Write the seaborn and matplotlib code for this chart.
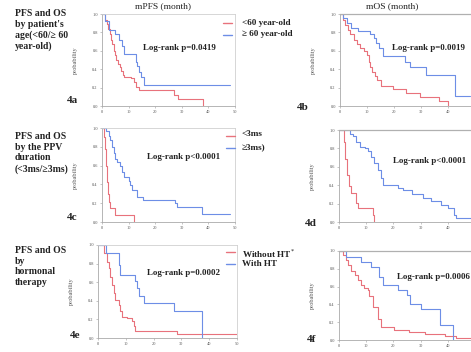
import matplotlib
matplotlib.use('Agg')
import matplotlib.pyplot as plt
import seaborn as sns
import pandas as pd
from matplotlib.lines import Line2D

W, H = 471, 352
RED = '#e8727c'
BLUE = '#6d8ee6'

# ---------------- data (time in months, survival probability) -------------
# 4a  mPFS by age
a_lt60_t = [0, 1.2, 1.8, 2.4, 2.9, 3.4, 3.9, 4.4, 4.9, 5.4, 6.0, 6.6, 7.2, 7.8, 8.4, 10.8, 12.0, 12.7, 13.9, 27.2, 28.5, 38.0]
a_lt60_s = [1.0, 0.93, 0.89, 0.84, 0.78, 0.72, 0.67, 0.60, 0.55, 0.50, 0.46, 0.42, 0.38, 0.34, 0.32, 0.30, 0.26, 0.21, 0.17, 0.12, 0.08, 0.0]
a_ge60_t = [0, 1.3, 2.5, 4.7, 6.3, 7.6, 8.2, 12.7, 13.3, 13.9, 14.6, 15.8, 48.1]
a_ge60_s = [1.0, 0.92, 0.83, 0.78, 0.72, 0.65, 0.57, 0.48, 0.43, 0.37, 0.31, 0.23, 0.23]
# 4b  mOS by age
b_lt60_t = [0, 1.0, 1.9, 2.9, 3.8, 5.0, 6.2, 7.5, 8.8, 10.0, 10.6, 11.2, 12.0, 12.8, 13.8, 15.0, 19.5, 24.5, 29.5, 36.5, 40.0]
b_lt60_s = [1.0, 0.94, 0.88, 0.83, 0.78, 0.72, 0.67, 0.63, 0.60, 0.55, 0.48, 0.42, 0.37, 0.33, 0.28, 0.22, 0.18, 0.14, 0.10, 0.05, 0.0]
b_ge60_t = [0, 1.2, 2.5, 4.0, 6.5, 11.0, 12.5, 13.5, 14.5, 15.8, 24.0, 26.0, 32.0, 42.5, 48.0]
b_ge60_s = [1.0, 0.96, 0.90, 0.85, 0.81, 0.78, 0.74, 0.69, 0.63, 0.54, 0.48, 0.42, 0.34, 0.11, 0.11]
# 4c  mPFS by PPV duration
c_lt3_t = [0, 0.9, 1.25, 1.6, 1.9, 2.1, 2.5, 3.1, 5.0, 11.9]
c_lt3_s = [1.0, 0.90, 0.78, 0.60, 0.43, 0.30, 0.21, 0.15, 0.07, 0.0]
c_ge3_t = [0, 1.5, 2.5, 3.1, 3.8, 4.4, 5.0, 5.6, 6.9, 7.5, 8.1, 10.0, 10.6, 11.2, 13.1, 15.6, 27.5, 28.1, 37.5, 48.0]
c_ge3_s = [1.0, 0.97, 0.92, 0.87, 0.80, 0.73, 0.67, 0.64, 0.60, 0.53, 0.48, 0.44, 0.39, 0.34, 0.27, 0.23, 0.20, 0.16, 0.08, 0.08]
# 4d  mOS by PPV duration
d_lt3_t = [0, 1.8, 2.3, 3.0, 3.5, 4.5, 6.3, 7.0, 12.4, 13.0]
d_lt3_s = [1.0, 0.87, 0.69, 0.51, 0.39, 0.31, 0.21, 0.15, 0.08, 0.0]
d_ge3_t = [0, 4.0, 5.1, 6.3, 7.6, 9.5, 10.6, 11.8, 13.0, 14.3, 15.5, 16.1, 21.6, 23.5, 27.0, 30.7, 33.8, 37.4, 39.9, 42.3, 43.0, 48.5]
d_ge3_s = [1.0, 0.96, 0.93, 0.87, 0.82, 0.80, 0.77, 0.71, 0.64, 0.57, 0.48, 0.40, 0.37, 0.35, 0.30, 0.26, 0.23, 0.19, 0.15, 0.08, 0.04, 0.04]
# 4e  mPFS by hormonal therapy
e_without_t = [0, 2.0, 3.2, 3.8, 4.4, 5.0, 5.6, 6.2, 7.4, 8.0, 8.6, 10.4, 12.2, 12.8, 13.4, 28.4, 50.5]
e_without_s = [1.0, 0.91, 0.82, 0.75, 0.66, 0.57, 0.48, 0.41, 0.36, 0.29, 0.23, 0.21, 0.18, 0.13, 0.07, 0.04, 0.04]
e_with_t = [0, 3.0, 7.4, 8.0, 13.4, 14.0, 14.6, 16.4, 27.2, 37.4]
e_with_s = [1.0, 0.91, 0.79, 0.68, 0.61, 0.54, 0.45, 0.38, 0.29, 0.0]
# 4f  mOS by hormonal therapy
f_without_t = [0, 1.5, 2.7, 3.3, 4.5, 5.7, 6.9, 8.1, 9.3, 10.5, 11.2, 12.4, 14.2, 15.4, 20.3, 25.6, 31.6, 39.0, 43.0, 48.5]
f_without_s = [1.0, 0.95, 0.90, 0.84, 0.78, 0.73, 0.67, 0.62, 0.58, 0.56, 0.49, 0.37, 0.24, 0.15, 0.11, 0.09, 0.07, 0.04, 0.02, 0.02]
f_with_t = [0, 2.7, 8.0, 11.7, 14.8, 16.0, 21.5, 25.0, 26.0, 30.0, 37.0, 42.0]
f_with_s = [1.0, 0.93, 0.88, 0.82, 0.71, 0.62, 0.56, 0.51, 0.41, 0.35, 0.17, 0.0]

titles = ['mPFS (month)', 'mOS (month)']
row_labels = ["PFS and OS\nby patient's\nage(<60/\u2265 60\nyear-old)",
              "PFS and OS\nby the PPV\nduration\n(<3ms/\u22653ms)",
              "PFS and OS\nby\nhormonal\ntherapy"]
legend_labels = [['<60 year-old', '\u2265 60 year-old'],
                 ['<3ms', '\u22653ms)'],
                 ['Without HT$^{*}$', 'With HT']]
pvalues = ['Log-rank p=0.0419', 'Log-rank p=0.0019', 'Log-rank p<0.0001',
           'Log-rank p<0.0001', 'Log-rank p=0.0002', 'Log-rank p=0.0006']
panel_ids = ['4a', '4b', '4c', '4d', '4e', '4f']
x_ticks_left = [0, 10, 20, 30, 40, 50]
x_ticks_right = [0, 10, 20, 30, 40]
y_ticks = [0.0, 0.2, 0.4, 0.6, 0.8, 1.0]

# ---------------- figure --------------------------------------------------
sns.set_theme(style='white')
plt.rcParams['font.family'] = ['Liberation Serif', 'DejaVu Serif']

fig = plt.figure(figsize=(W / 100, H / 100), dpi=100)


def rect(x0, y0, x1, y1):
    return [x0 / W, 1 - y1 / H, (x1 - x0) / W, (y1 - y0) / H]


def fx(x):
    return x / W


def fy(y):
    return 1 - y / H


def km(ax, t, s, color):
    df = pd.DataFrame({'time': t, 'surv': s})
    sns.lineplot(data=df, x='time', y='surv', ax=ax, color=color, linewidth=0.8,
                 drawstyle='steps-post', estimator=None, sort=False)


panels = [
    (rect(102, 14, 235, 106), 50.0, (a_lt60_t, a_lt60_s), (a_ge60_t, a_ge60_s), False),
    (rect(340, 14, 471, 106), 48.5, (b_lt60_t, b_lt60_s), (b_ge60_t, b_ge60_s), True),
    (rect(102, 128, 235, 222), 50.0, (c_lt3_t, c_lt3_s), (c_ge3_t, c_ge3_s), False),
    (rect(339, 130, 471, 222), 48.5, (d_lt3_t, d_lt3_s), (d_ge3_t, d_ge3_s), True),
    (rect(98, 245, 237, 338), 50.0, (e_without_t, e_without_s), (e_with_t, e_with_s), False),
    (rect(339, 251, 471, 340), 48.5, (f_without_t, f_without_s), (f_with_t, f_with_s), True),
]

for i, (r, xmax, red, blue, right_col) in enumerate(panels):
    ax = fig.add_axes(r)
    km(ax, red[0], red[1], RED)
    km(ax, blue[0], blue[1], BLUE)
    ax.set_xlim(0, xmax)
    ax.set_ylim(0, 1.0)
    xt = x_ticks_right if right_col else x_ticks_left
    ax.set_xticks(xt)
    ax.set_xticklabels([str(v) for v in xt])
    ax.set_yticks(y_ticks)
    ax.set_yticklabels(['%.1f' % v for v in y_ticks])
    ax.tick_params(labelsize=3.2, length=1.5, width=0.4, color='#999999',
                   labelcolor='#555555', pad=1.5, bottom=True, left=True)
    for side, sp in ax.spines.items():
        sp.set_color('#d0d0d0')
        sp.set_linewidth(0.6)
    ax.spines['left'].set_color('#aaaaaa')
    ax.spines['bottom'].set_color('#aaaaaa')
    if right_col:
        ax.spines['top'].set_color('#b0b0b0')
        ax.spines['top'].set_linewidth(0.9)
    ax.set_xlabel('')
    ax.set_ylabel('probability', fontsize=4.5, color='#555555')
    wpx = r[2] * W
    ax.yaxis.set_label_coords(-24 / wpx, 0.5)
    ax.patch.set_alpha(0)

# column titles
fig.text(fx(163), fy(6), titles[0], fontsize=6.8, ha='center', va='center', color='#222222')
fig.text(fx(392), fy(6), titles[1], fontsize=6.8, ha='center', va='center', color='#222222')

# row descriptions
for txt, ytop in zip(row_labels, [9, 132, 246]):
    fig.text(fx(15), fy(ytop), txt, fontsize=7, fontweight='bold', ha='left', va='top',
             linespacing=1.24, color='#222222')

# legends (short lines + labels)
leg_pos = [((223, 232), (23, 35), (23, 34)),
           ((226, 235), (136, 148), (134, 147)),
           ((226, 235), (252, 264), (254, 264))]
for (xs, ly, ty), labels in zip(leg_pos, legend_labels):
    fig.add_artist(Line2D([fx(xs[0]), fx(xs[1])], [fy(ly[0]), fy(ly[0])], color=RED, lw=1.0))
    fig.add_artist(Line2D([fx(xs[0]), fx(xs[1])], [fy(ly[1]), fy(ly[1])], color=BLUE, lw=1.0))
    fig.text(fx(242), fy(ty[0]), labels[0], fontsize=6.6, fontweight='bold', ha='left', va='center', color='#222222')
    fig.text(fx(242), fy(ty[1]), labels[1], fontsize=6.6, fontweight='bold', ha='left', va='center', color='#222222')

# log-rank annotations
for txt, (x, y) in zip(pvalues, [(143, 48), (392, 48), (147, 157), (393, 161), (147, 273), (397, 277)]):
    fig.text(fx(x), fy(y), txt, fontsize=6.4, fontweight='bold', ha='left', va='center', color='#222222')

# panel ids
for txt, (x, y) in zip(panel_ids, [(67, 100), (297, 107), (67, 218), (305, 223), (70, 335), (307, 339)]):
    fig.text(fx(x), fy(y), txt, fontsize=8, fontweight='bold', ha='left', va='center', color='#222222')

fig.savefig('out.png', dpi=100)
